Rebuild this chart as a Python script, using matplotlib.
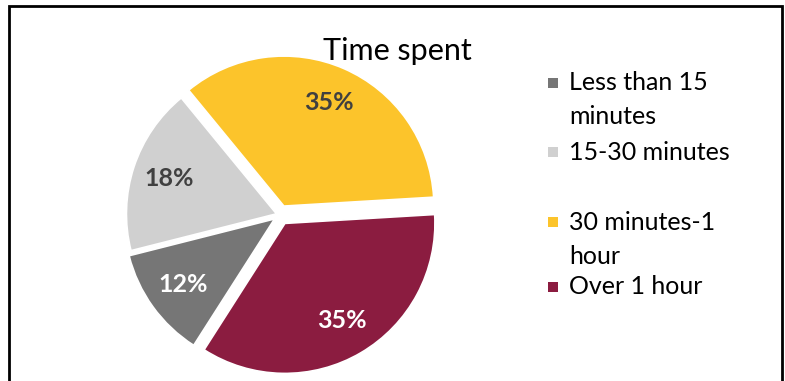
import matplotlib
matplotlib.use('Agg')
import matplotlib.pyplot as plt
from matplotlib.patches import Rectangle

plt.rcParams['font.family'] = ['Lato', 'DejaVu Sans']

title = 'Time spent'
categories = ['Less than 15\nminutes', '15-30 minutes', '30 minutes-1\nhour', 'Over 1 hour']
shares = [12, 18, 35, 35]

colors = ['#767676', '#D0D0D0', '#FCC42B', '#8B1C40']
label_colors = ['white', '#404040', '#404040', 'white']
explode = [0.045, 0.025, 0.065, 0.065]

W, H = 785, 381
radius = 150
fig = plt.figure(figsize=(W / 100, H / 100), dpi=100)
ax = fig.add_axes([0, 0, 1, 1])

# pie explode offsets are in data units, so scale them by the radius
wedges, texts, autotexts = ax.pie(
    shares, colors=colors, explode=[e * radius for e in explode],
    startangle=-122.6, counterclock=False, center=(280, 166), radius=radius,
    autopct=lambda p: f'{p:.0f}%', pctdistance=0.75,
    wedgeprops=dict(edgecolor='white', linewidth=1.2),
    textprops=dict(fontsize=18, fontweight='bold'))
for t, c in zip(autotexts, label_colors):
    t.set_color(c)

ax.set_xlim(0, W)
ax.set_ylim(0, H)
ax.set_aspect('equal')
ax.axis('off')

ax.text(397, H - 51, title, fontsize=22, ha='center', va='center', color='black')

# legend drawn by hand so the marker sits on the first line of each entry
entry_y = [83, 152, 222, 287]
line_h = 34
for label, color, y in zip(categories, colors, entry_y):
    ax.add_patch(Rectangle((548, H - y - 5), 10, 10, facecolor=color,
                           edgecolor='none'))
    for i, line in enumerate(label.split('\n')):
        ax.text(569, H - y - i * line_h, line, fontsize=18, ha='left',
                va='center', color='black')

# chart border
ax.add_patch(Rectangle((9, -20), 773, H - 6 + 20, fill=False,
                       edgecolor='black', linewidth=2, clip_on=False))

fig.savefig('out.png', dpi=100)
